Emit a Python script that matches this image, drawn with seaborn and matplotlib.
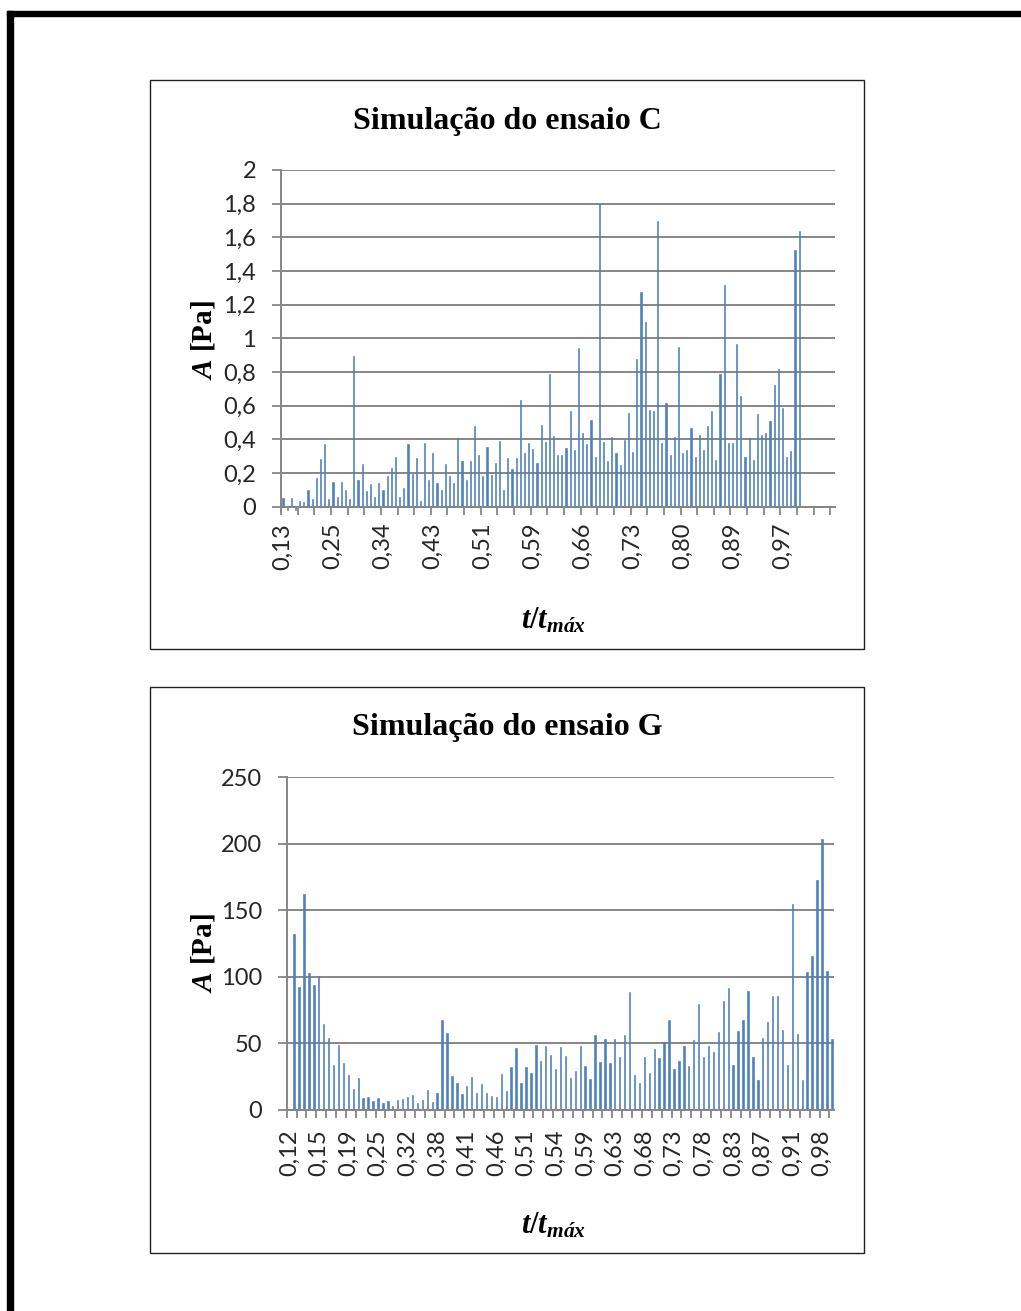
import matplotlib
matplotlib.use('Agg')
import matplotlib.pyplot as plt
from matplotlib.patches import Rectangle
import numpy as np
import pandas as pd
import seaborn as sns

sns.set_style('white')
plt.rcParams['font.family'] = ['Lato', 'DejaVu Sans']
plt.rcParams['mathtext.fontset'] = 'custom'
plt.rcParams['mathtext.rm'] = 'Liberation Serif:bold'
plt.rcParams['mathtext.it'] = 'Liberation Serif:italic:bold'
plt.rcParams['mathtext.bf'] = 'Liberation Serif:bold'

W, H = 1021, 1311
BLUE = '#4F81BD'
GRAY = '#868686'
SERIF = 'Liberation Serif'

# Simulação do ensaio C (categories 0..132, values only for the first 125)
c_values = [
    0.055, -0.02, 0.055, -0.02, 0.036, 0.026, 0.10, 0.044, 0.17, 0.285,
    0.374, 0.044, 0.147, 0.057, 0.15, 0.097, 0.046, 0.897, 0.162, 0.253,
    0.093, 0.135, 0.057, 0.14, 0.099, 0.184, 0.228, 0.293, 0.059, 0.113,
    0.374, 0.192, 0.287, 0.036, 0.38, 0.158, 0.317, 0.14, 0.099, 0.253,
    0.182, 0.14, 0.406, 0.273, 0.158, 0.273, 0.481, 0.305, 0.18, 0.356,
    0.188, 0.259, 0.39, 0.099, 0.287, 0.224, 0.287, 0.636, 0.317, 0.38,
    0.345, 0.259, 0.483, 0.386, 0.786, 0.422, 0.307, 0.307, 0.352, 0.568,
    0.337, 0.94, 0.44, 0.372, 0.513, 0.295, 1.80, 0.386, 0.273, 0.412,
    0.317, 0.246, 0.396, 0.558, 0.327, 0.877, 1.273, 1.10, 0.572, 0.568,
    1.70, 0.378, 0.618, 0.307, 0.414, 0.95, 0.317, 0.339, 0.465, 0.295,
    0.424, 0.337, 0.479, 0.570, 0.277, 0.788, 1.315, 0.378, 0.378, 0.968,
    0.655, 0.295, 0.406, 0.277, 0.552, 0.428, 0.436, 0.507, 0.721, 0.818,
    0.584, 0.293, 0.333, 1.527, 1.64,
]
c_n_cat = 133
c_labels = ['0,13', '0,25', '0,34', '0,43', '0,51', '0,59', '0,66', '0,73', '0,80', '0,89', '0,97']
c_yticks = [0, 0.2, 0.4, 0.6, 0.8, 1, 1.2, 1.4, 1.6, 1.8, 2]

# Simulação do ensaio G (categories 0..110, first one blank)
g_values = [
    132.5, 92.5, 162.3, 103.3, 94, 101, 64.3, 54.3, 33.5, 49,
    35, 26.3, 15.8, 23.8, 9, 9.5, 6.8, 9, 5.3, 6.5,
    3.3, 7.8, 8.3, 9.5, 11, 5.3, 7.8, 15.3, 6, 12.8,
    68, 58, 25.3, 20.3, 12, 18.3, 24.8, 12.8, 19.8, 12.8,
    10.8, 9.8, 27, 14, 32.3, 46.5, 20.3, 32.3, 27.5, 48.5,
    36.8, 48, 41.3, 30.5, 47.3, 40.8, 24, 29, 48.3, 33,
    23.3, 56.5, 36, 53, 35, 53.5, 39.5, 56.3, 88.3, 26.3,
    20, 39.5, 27.8, 45.8, 38.8, 51, 67.3, 30.8, 37, 48.3,
    32.8, 52.5, 80, 39.8, 48.3, 43.5, 58.3, 81.8, 91.5, 33.5,
    59.3, 67.3, 89.3, 39.8, 22.5, 54, 66, 85.3, 85.8, 60.3,
    33.8, 154.8, 56.8, 22.5, 103.5, 116, 173, 203.3, 104.3, 53.3,
]
g_n_cat = 111
g_labels = ['0,12', '0,15', '0,19', '0,25', '0,32', '0,38', '0,41', '0,46', '0,51', '0,54',
            '0,59', '0,63', '0,68', '0,73', '0,78', '0,83', '0,87', '0,91', '0,98']
g_yticks = [0, 50, 100, 150, 200, 250]


def px_box(x0, y0, x1, y1):
    return [x0 / W, 1 - y1 / H, (x1 - x0) / W, (y1 - y0) / H]


def draw_chart(ax, values, first, n_cat, labels, label_step, tick_step, yticks, ymin, xpad, ypad):
    df = pd.DataFrame({'cat': range(first, first + len(values)), 'value': values})
    sns.barplot(data=df, x='cat', y='value', order=list(range(n_cat)), color=BLUE,
                saturation=1, width=0.28, errorbar=None, edgecolor=BLUE, linewidth=0.45, ax=ax)
    ax.set_xlim(-0.5, n_cat - 0.5)
    ax.set_ylim(ymin, yticks[-1])
    ax.set_xlabel('')
    ax.set_ylabel('')

    ax.set_xticks(list(range(0, len(labels) * label_step, label_step)), labels=labels)
    ax.set_xticks(np.arange(-0.5, n_cat - 0.5, tick_step), minor=True)
    ax.tick_params(axis='x', which='major', length=0, pad=xpad, labelrotation=90, labelsize=17)
    ax.tick_params(axis='x', which='minor', length=5.5, width=1.3, color=GRAY, bottom=True)

    ax.set_yticks(yticks, labels=[f'{v:g}'.replace('.', ',') for v in yticks])
    ax.tick_params(axis='y', length=6.5, width=1.3, color=GRAY, pad=ypad, left=True, labelsize=17)

    ax.yaxis.grid(True, color=GRAY, lw=1.4)
    ax.xaxis.grid(False)
    ax.set_axisbelow(True)
    for side in ['top', 'right']:
        ax.spines[side].set_visible(False)
    for side in ['left', 'bottom']:
        ax.spines[side].set_color(GRAY)
        ax.spines[side].set_linewidth(1.4)
    ax.spines['bottom'].set_position(('data', 0))


fig = plt.figure(figsize=(W / 100, H / 100), dpi=100)

# outer page frame
fig.patches.append(Rectangle((6.5 / W, 1 - 16 / H), 1 - 6.5 / W, 5 / H,
                             transform=fig.transFigure, color='black', zorder=0))
fig.patches.append(Rectangle((6.5 / W, 0), 6 / W, 1 - 11 / H,
                             transform=fig.transFigure, color='black', zorder=0))
# chart boxes
for y0, y1 in [(80, 649), (687, 1253)]:
    b = px_box(150, y0, 864, y1)
    fig.patches.append(Rectangle((b[0], b[1]), b[2], b[3], transform=fig.transFigure,
                                 fill=False, edgecolor='#222222', lw=1.0, zorder=0))

axC = fig.add_axes(px_box(281, 170, 834.5, 511))
draw_chart(axC, c_values, 0, c_n_cat, c_labels, 12, 4, c_yticks, -0.025, 11.5, 11.5)

axG = fig.add_axes(px_box(286.7, 777.3, 834.3, 1110))
draw_chart(axG, g_values, 1, g_n_cat, g_labels, 6, 2, g_yticks, 0, 14, 11)

# titles and axis labels
fig.text(507 / W, 1 - 121 / H, 'Simulação do ensaio C', family=SERIF, weight='bold',
         fontsize=23, ha='center', va='center', color='black')
fig.text(507 / W, 1 - 728 / H, 'Simulação do ensaio G', family=SERIF, weight='bold',
         fontsize=23, ha='center', va='center', color='black')
for yc in [340, 953]:
    fig.text(203 / W, 1 - yc / H, r'$A$ [Pa]', family=SERIF, weight='bold',
             fontsize=21, rotation=90, ha='center', va='center', color='black')
for yc in [620, 1225]:
    fig.text(553 / W, 1 - yc / H, r'$t/t_{máx}$', fontsize=22,
             ha='center', va='center', color='black')

fig.savefig('out.png', dpi=100)
